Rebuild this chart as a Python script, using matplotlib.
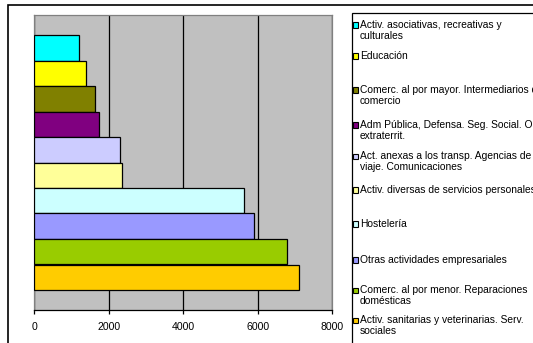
import matplotlib
matplotlib.use("Agg")
import matplotlib.pyplot as plt
from matplotlib.patches import Rectangle

# ---- data ----
categories = [
    "Activ. asociativas, recreativas y\nculturales",
    "Educación",
    "Comerc. al por mayor. Intermediarios del\ncomercio",
    "Adm Pública, Defensa. Seg. Social. Org.\nextraterrit.",
    "Act. anexas a los transp. Agencias de\nviaje. Comunicaciones",
    "Activ. diversas de servicios personales",
    "Hostelería",
    "Otras actividades empresariales",
    "Comerc. al por menor. Reparaciones\ndomésticas",
    "Activ. sanitarias y veterinarias. Serv.\nsociales",
]
values = [1190, 1396, 1620, 1727, 2300, 2362, 5638, 5897, 6774, 7114]
colors = ["#00FFFF", "#FFFF00", "#808000", "#800080", "#CCCCFF",
          "#FFFF99", "#CCFFFF", "#9999FF", "#99CC00", "#FFCC00"]
xticks = [0, 2000, 4000, 6000, 8000]

W, H = 533, 343
plt.rcParams['font.family'] = ['Liberation Sans', 'DejaVu Sans']
fig = plt.figure(figsize=(W / 100, H / 100), dpi=100)

def fx(x):
    return x / W

def fy(y):
    return 1 - y / H

# outer border
fig.patches.append(Rectangle((fx(8), fy(400)), fx(600), fy(5) - fy(400),
                             transform=fig.transFigure, fill=False,
                             edgecolor="black", linewidth=1.2))
# legend box
fig.patches.append(Rectangle((fx(352), fy(400)), fx(600), fy(13) - fy(400),
                             transform=fig.transFigure, fill=False,
                             edgecolor="black", linewidth=0.9))

left, right, top, bottom = 34.3, 332.3, 15, 310
ax = fig.add_axes([fx(left), fy(bottom), fx(right - left), fy(top) - fy(bottom)])
ax.set_facecolor("#C0C0C0")

ypos = list(range(len(values)))
ax.barh(ypos, values, height=1.0, color=colors, edgecolor="black",
        linewidth=0.9, zorder=3)

gap = 20 / 25.5
ax.set_ylim(len(values) - 0.5 + gap, -0.5 - gap)
ax.set_xlim(0, 8000)
ax.set_xticks(xticks)
ax.set_xticklabels([str(t) for t in xticks], fontsize=7.6)
ax.set_yticks([])
ax.xaxis.grid(True, color="black", linewidth=0.9, zorder=1)
ax.set_axisbelow(True)
ax.tick_params(axis="x", direction="out", length=3, width=0.9, pad=6,
               color="black")
for s in ["top", "right", "left"]:
    ax.spines[s].set_color("#808080")
    ax.spines[s].set_linewidth(0.9)
ax.spines["bottom"].set_color("black")
ax.spines["bottom"].set_linewidth(0.9)

# legend
entry_y = [25, 56, 90, 125, 156.7, 190, 224, 260, 290.7, 320.7]
for lab, col, yc in zip(categories, colors, entry_y):
    fig.patches.append(Rectangle((fx(353), fy(yc + 2.6)), fx(5.2), fy(yc - 2.6) - fy(yc + 2.6),
                                 transform=fig.transFigure, facecolor=col,
                                 edgecolor="black", linewidth=0.8))
    fig.text(fx(360), fy(yc - 5.3), lab, fontsize=7.4, va="top", ha="left",
             linespacing=1.12)

fig.savefig("out.png", dpi=100)
